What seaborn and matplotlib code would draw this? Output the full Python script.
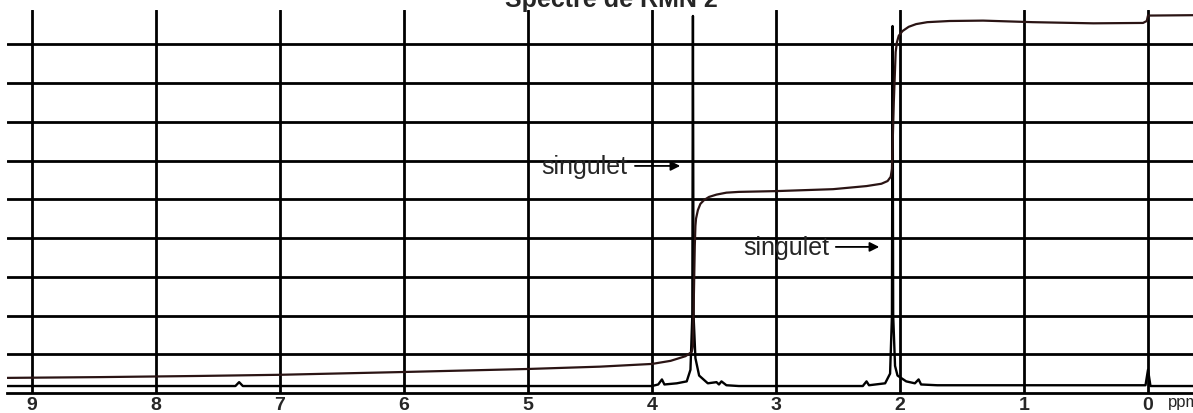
import seaborn as sns
import matplotlib.pyplot as plt
import pandas as pd

# spectre (ppm, intensite en unites de grille)
spec_ppm = [9.2, 7.36, 7.33, 7.30, 4.0, 3.95, 3.92, 3.90, 3.80, 3.72, 3.69, 3.675, 3.67,
            3.665, 3.65, 3.62, 3.55, 3.48, 3.46, 3.44, 3.40, 3.30, 2.30, 2.27, 2.25,
            2.12, 2.08, 2.065, 2.06, 2.055, 2.04, 2.02, 1.95, 1.88, 1.85, 1.83, 1.70,
            0.02, 0.0, -0.02, -0.363]
spec_int = [0.18, 0.18, 0.28, 0.18, 0.18, 0.22, 0.35, 0.22, 0.25, 0.3, 0.6, 2.0, 9.73,
            2.0, 0.9, 0.45, 0.25, 0.28, 0.22, 0.3, 0.2, 0.18, 0.18, 0.3, 0.2,
            0.25, 0.5, 2.0, 9.47, 2.0, 0.7, 0.45, 0.3, 0.25, 0.35, 0.22, 0.2,
            0.2, 0.6, 0.18, 0.18]

# courbe d'integration
integ_ppm = [9.2, 8.45, 7.65, 7.0, 6.03, 5.0, 4.42, 4.0, 3.85, 3.73, 3.68, 3.67, 3.655,
             3.65, 3.645, 3.63, 3.61, 3.58, 3.54, 3.48, 3.40, 3.30, 3.0, 2.54, 2.27, 2.15,
             2.10, 2.075, 2.065, 2.05, 2.035, 2.025, 2.01, 1.98, 1.93, 1.87, 1.78, 1.60,
             1.33, 0.93, 0.44, 0.04, 0.01, 0.0, -0.363]
integ_val = [0.39, 0.41, 0.44, 0.47, 0.54, 0.62, 0.68, 0.75, 0.83, 0.95, 1.06, 1.2, 3.8,
             4.31, 4.50, 4.72, 4.88, 4.98, 5.06, 5.12, 5.17, 5.19, 5.21, 5.26, 5.34, 5.40,
             5.47, 5.58, 5.78, 7.5, 8.80, 9.05, 9.22, 9.34, 9.45, 9.52, 9.57, 9.60,
             9.61, 9.57, 9.54, 9.55, 9.6, 9.74, 9.75]

ppm_ticks = [9, 8, 7, 6, 5, 4, 3, 2, 1, 0]
grid_levels = [1, 2, 3, 4, 5, 6, 7, 8, 9]

spec = pd.DataFrame({"ppm": spec_ppm, "I": spec_int})
integ = pd.DataFrame({"ppm": integ_ppm, "I": integ_val})

sns.set_style("white")
plt.rcParams['font.family'] = ['Liberation Sans', 'DejaVu Sans']

fig = plt.figure(figsize=(11.93, 4.14), dpi=100)
ax = fig.add_axes([7 / 1193, 20 / 414, 1 - 7 / 1193, 383 / 414])

for v in ppm_ticks:
    ax.axvline(v, color="black", lw=2.0, zorder=1)
for h in grid_levels:
    ax.axhline(h, color="black", lw=2.0, zorder=1)

sns.lineplot(data=spec, x="ppm", y="I", sort=False, color="black", lw=1.7, ax=ax, zorder=3)
sns.lineplot(data=integ, x="ppm", y="I", sort=False, color="#2a1414", lw=1.6, ax=ax, zorder=3)

ax.set_xlim(9.202, -0.363)
ax.set_ylim(0, 383 / 38.75)
ax.set_xticks(ppm_ticks)
ax.set_xticklabels([str(t) for t in ppm_ticks], fontsize=14, fontweight="bold")
ax.set_yticks([])
ax.tick_params(axis="x", length=0, pad=2)
ax.set_xlabel("")
ax.set_ylabel("")
for s in ["top", "left", "right"]:
    ax.spines[s].set_visible(False)
ax.spines["bottom"].set_linewidth(2.0)
ax.spines["bottom"].set_color("black")

ax.text(-0.16, -0.335, "ppm", fontsize=12, ha="left", va="baseline", clip_on=False)

ax.text(4.20, 5.86, "singulet", fontsize=18, ha="right", va="center")
ax.annotate("", xy=(3.75, 5.86), xytext=(4.16, 5.86),
            arrowprops=dict(arrowstyle="-|>", color="black", lw=1.3, mutation_scale=14))
ax.text(2.57, 3.77, "singulet", fontsize=18, ha="right", va="center")
ax.annotate("", xy=(2.145, 3.77), xytext=(2.54, 3.77),
            arrowprops=dict(arrowstyle="-|>", color="black", lw=1.3, mutation_scale=14))

fig.text(611 / 1193, 1 - 7 / 414, "Spectre de RMN 2", fontsize=18, fontweight="bold",
         ha="center", va="baseline")

fig.savefig("out.png", dpi=100)
